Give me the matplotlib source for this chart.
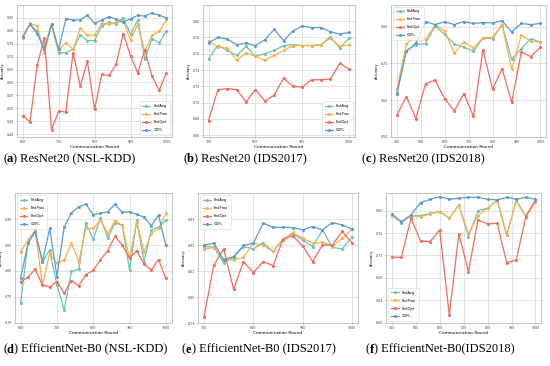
import numpy as np
import matplotlib
matplotlib.use("Agg")
import matplotlib.pyplot as plt

methods = ["FedAvg", "FedProx", "FedOpt", "CDFL"]
colors = {"FedAvg": "#6cc5b0", "FedProx": "#fbb04b", "FedOpt": "#f8695a", "CDFL": "#5a9bd4"}

# (a) ResNet20 (NSL-KDD)
a_rounds = list(range(600, 1001, 20))
a_fedavg = [0.777, 0.824, 0.798, 0.730, 0.824, 0.715, 0.715, 0.728, 0.783, 0.762, 0.762,
            0.818, 0.833, 0.824, 0.850, 0.786, 0.841, 0.689, 0.769, 0.753, 0.798]
a_fedprox = [0.773, 0.828, 0.818, 0.712, 0.824, 0.725, 0.753, 0.728, 0.809, 0.783, 0.783,
             0.828, 0.824, 0.833, 0.837, 0.764, 0.824, 0.721, 0.782, 0.798, 0.841]
a_fedopt = [0.472, 0.447, 0.666, 0.773, 0.418, 0.489, 0.486, 0.715, 0.586, 0.682, 0.496,
            0.631, 0.627, 0.670, 0.789, 0.702, 0.637, 0.725, 0.624, 0.570, 0.637]
a_cdfl = [0.777, 0.824, 0.789, 0.728, 0.824, 0.728, 0.846, 0.841, 0.841, 0.860, 0.828,
          0.841, 0.854, 0.844, 0.833, 0.846, 0.859, 0.856, 0.869, 0.859, 0.850]

# (b) ResNet20 (IDS2017)
b_rounds = list(range(700, 1001, 20))
b_fedavg = [0.754, 0.770, 0.764, 0.758, 0.769, 0.757, 0.760, 0.764, 0.770, 0.771, 0.770,
            0.770, 0.771, 0.781, 0.767, 0.779]
b_fedprox = [0.776, 0.768, 0.767, 0.752, 0.761, 0.757, 0.752, 0.758, 0.764, 0.770, 0.770,
             0.770, 0.771, 0.779, 0.769, 0.771]
b_fedopt = [0.678, 0.716, 0.717, 0.716, 0.701, 0.716, 0.702, 0.709, 0.730, 0.720, 0.719,
            0.728, 0.728, 0.729, 0.748, 0.741]
b_cdfl = [0.773, 0.780, 0.778, 0.771, 0.773, 0.770, 0.777, 0.790, 0.776, 0.788, 0.794,
          0.792, 0.792, 0.787, 0.784, 0.786]

# (c) ResNet20 (IDS2018)
c_rounds = list(range(400, 1001, 40))
c_fedavg = [0.619, 0.735, 0.751, 0.754, 0.802, 0.779, 0.754, 0.744, 0.733, 0.769, 0.768,
            0.805, 0.712, 0.740, 0.768, 0.758]
c_fedprox = [0.630, 0.754, 0.774, 0.765, 0.805, 0.789, 0.728, 0.758, 0.743, 0.770, 0.772,
             0.805, 0.684, 0.777, 0.761, 0.758]
c_fedopt = [0.559, 0.610, 0.550, 0.645, 0.654, 0.604, 0.571, 0.618, 0.556, 0.737, 0.630,
            0.686, 0.594, 0.731, 0.719, 0.744]
c_cdfl = [0.617, 0.733, 0.756, 0.814, 0.806, 0.814, 0.806, 0.814, 0.809, 0.811, 0.811,
          0.816, 0.786, 0.809, 0.806, 0.809]

# (d) EfficientNet-B0 (NSL-KDD)
d_rounds = list(range(600, 1001, 20))
d_fedavg = [0.738, 0.853, 0.876, 0.818, 0.840, 0.773, 0.725, 0.799, 0.803, 0.892, 0.861,
            0.903, 0.863, 0.893, 0.888, 0.802, 0.898, 0.818, 0.879, 0.885, 0.898]
d_fedprox = [0.837, 0.860, 0.879, 0.773, 0.834, 0.815, 0.821, 0.853, 0.818, 0.882, 0.882,
             0.898, 0.872, 0.897, 0.888, 0.824, 0.895, 0.837, 0.872, 0.882, 0.911]
d_fedopt = [0.779, 0.788, 0.803, 0.773, 0.769, 0.779, 0.757, 0.781, 0.771, 0.793, 0.801,
            0.822, 0.839, 0.867, 0.850, 0.824, 0.839, 0.813, 0.802, 0.822, 0.786]
d_cdfl = [0.786, 0.853, 0.876, 0.818, 0.882, 0.789, 0.885, 0.912, 0.924, 0.929, 0.908,
          0.912, 0.914, 0.929, 0.913, 0.914, 0.909, 0.904, 0.887, 0.908, 0.850]

# (e) EfficientNet-B0 (IDS2017)
e_rounds = list(range(700, 1001, 20))
e_fedavg = [0.8195, 0.8192, 0.8133, 0.8154, 0.8195, 0.8186, 0.8210, 0.8176, 0.8221, 0.8244,
            0.8221, 0.8195, 0.8259, 0.8192, 0.8186, 0.8233]
e_fedprox = [0.8185, 0.8191, 0.8146, 0.8144, 0.8153, 0.8208, 0.8199, 0.8176, 0.8223, 0.8249,
             0.8227, 0.8208, 0.8212, 0.8195, 0.8227, 0.8262]
e_fedopt = [0.7922, 0.8124, 0.8186, 0.8031, 0.8137, 0.8095, 0.8137, 0.8121, 0.8223, 0.8236,
            0.8197, 0.8137, 0.8201, 0.8201, 0.8253, 0.8208]
e_cdfl = [0.8201, 0.8208, 0.8144, 0.8156, 0.8199, 0.8208, 0.8285, 0.8269, 0.8269, 0.8268,
          0.8259, 0.8272, 0.8259, 0.8287, 0.8278, 0.8262]

# (f) EfficientNet-B0 (IDS2018)
f_rounds = list(range(400, 1001, 40))
f_fedavg = [0.7923, 0.7786, 0.7905, 0.7911, 0.7952, 0.7982, 0.7863, 0.8101, 0.7536, 0.8000,
            0.8042, 0.8190, 0.7565, 0.8179, 0.7905, 0.8179]
f_fedprox = [0.7905, 0.7804, 0.7905, 0.7893, 0.7941, 0.7982, 0.7863, 0.8101, 0.7583, 0.7911,
             0.8042, 0.8179, 0.7565, 0.8179, 0.7893, 0.8161]
f_fedopt = [0.7171, 0.7165, 0.7863, 0.7458, 0.7446, 0.7655, 0.6137, 0.7583, 0.6911, 0.7833,
            0.7762, 0.7774, 0.7071, 0.7119, 0.7893, 0.8179]
f_cdfl = [0.7935, 0.7804, 0.7923, 0.8143, 0.8202, 0.8250, 0.8202, 0.8220, 0.8238, 0.8238,
          0.8202, 0.8190, 0.8238, 0.8202, 0.8238, 0.8202]

panels = [
    ("a", "ResNet20 (NSL-KDD)", a_rounds, [a_fedavg, a_fedprox, a_fedopt, a_cdfl],
     [0.031, 0.626, 0.282, 0.361], (0.39, 0.90), np.arange(0.40, 0.851, 0.05), [600, 700, 800, 900, 1000], "lower right"),
    ("b", "ResNet20 (IDS2017)", b_rounds, [b_fedavg, b_fedprox, b_fedopt, b_cdfl],
     [0.369, 0.626, 0.276, 0.361], (0.658, 0.82), np.arange(0.66, 0.801, 0.02), [700, 800, 900, 1000], "lower right"),
    ("c", "ResNet20 (IDS2018)", c_rounds, [c_fedavg, c_fedprox, c_fedopt, c_cdfl],
     [0.711, 0.626, 0.282, 0.361], (0.50, 0.86), np.arange(0.50, 0.801, 0.10), list(range(400, 1001, 100)), "upper left"),
    ("d", "EfficientNet-B0 (NSL-KDD)", d_rounds, [d_fedavg, d_fedprox, d_fedopt, d_cdfl],
     [0.027, 0.117, 0.285, 0.355], (0.699, 0.95), np.arange(0.70, 0.901, 0.05), [600, 700, 800, 900, 1000], "upper left"),
    ("e", "EfficientNet-B0 (IDS2017)", e_rounds, [e_fedavg, e_fedprox, e_fedopt, e_cdfl],
     [0.360, 0.117, 0.291, 0.355], (0.79, 0.84), np.arange(0.79, 0.8301, 0.01), [700, 800, 900, 1000], "upper left"),
    ("f", "EfficientNet-B0(IDS2018)", f_rounds, [f_fedavg, f_fedprox, f_fedopt, f_cdfl],
     [0.702, 0.117, 0.282, 0.355], (0.599, 0.831), np.arange(0.60, 0.801, 0.04), list(range(400, 1001, 100)), "lower left"),
]

# caption left edge (px) and bottom (fig fraction)
caption_pos = {"a": (3, 0.548), "b": (183, 0.548), "c": (362, 0.548),
               "d": (3, 0.028), "e": (182, 0.028), "f": (366, 0.028)}

fig = plt.figure(figsize=(5.5, 3.66), dpi=100)
renderer = fig.canvas.get_renderer()
W = fig.get_figwidth() * fig.dpi

def caption(x_px, y, letter, title):
    cap_font = dict(fontsize=9, family="Liberation Serif", va="bottom")
    x = x_px / W
    for txt, wt in [("(", "normal"), (letter, "bold"), (") " + title, "normal")]:
        t = fig.text(x, y, txt, weight=wt, **cap_font)
        x += t.get_window_extent(renderer).width / W

for letter, title, rounds, series, pos, ylim, yticks, xticks, legloc in panels:
    ax = fig.add_axes(pos)
    for name, vals in zip(methods, series):
        ax.plot(rounds, vals, color=colors[name], lw=0.9, marker="o", ms=1.2, label=name)
    ax.set_ylim(*ylim)
    ax.set_yticks(yticks)
    ax.set_yticklabels(["{:.2f}".format(v) for v in yticks])
    ax.set_xticks(xticks)
    span = rounds[-1] - rounds[0]
    ax.set_xlim(rounds[0] - span * 0.04, rounds[-1] + span * 0.04)
    ax.grid(True, color="#dddddd", lw=0.6)
    ax.tick_params(labelsize=2.3, length=1, width=0.4, pad=1, colors="#444444")
    for s in ax.spines.values():
        s.set_color("#bbbbbb")
        s.set_linewidth(0.6)
    ax.set_xlabel("Communication Round", fontsize=3.2, labelpad=1)
    ax.set_ylabel("Accuracy", fontsize=2.6, labelpad=1.5)
    leg = ax.legend(loc=legloc, fontsize=2.6, handlelength=2.2, borderpad=0.8, labelspacing=1.1,
                    frameon=True, fancybox=True)
    leg.get_frame().set_linewidth(0.4)

    cx, cy = caption_pos[letter]
    caption(cx, cy, letter, title)

plt.savefig("out.png", dpi=100)
